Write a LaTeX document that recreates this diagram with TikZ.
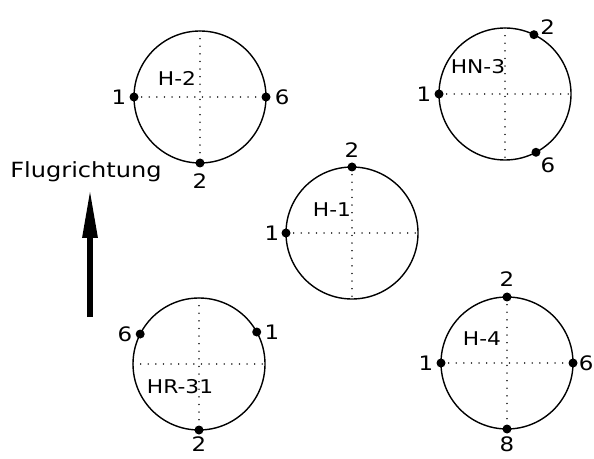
\documentclass[tikz,border=0pt]{standalone}
\usepackage{fontspec}
\setmainfont[FakeStretch=1.15]{DejaVu Sans}
\usetikzlibrary{arrows.meta, positioning}

\begin{document}
\begin{tikzpicture}[line cap=round,line join=round,x=1bp,y=-1bp,
		ring/.style={draw=black, circle, line width=1.4bp, minimum size=132bp, inner sep=0pt, outer sep=0pt},
		cross/.style={black!80, line width=1.5bp, dash pattern=on 0.1bp off 7.5bp},
		hole/.style={fill=black, circle, minimum size=9bp, inner sep=0pt},
		num/.style={inner sep=0pt, font=\fontsize{20}{24}\selectfont},
		tag/.style={inner sep=0pt, font=\fontsize{19}{22}\selectfont},
		heading/.style={line width=6bp, line cap=butt, -{Triangle[length=50bp 0 0,width=14bp 0 0]}}]
		\useasboundingbox (0,0) rectangle (594,459);
		% H-2
		\node[ring] (h2) at (200,97) {};
		\draw[cross] (h2.west) -- (h2.east) (h2.north) -- (h2.south);
		\node[tag] (h2t) at (177,78) {H-2};
		\node[hole] (h2a) at (h2.180) {};
		\node[hole] (h2b) at (h2.0) {};
		\node[hole] (h2c) at (h2.270) {};
		\node[num, left=3bp of h2a] (h2n1) {1};
		\node[num, right=4bp of h2b] (h2n6) {6};
		\node[num, below=6bp of h2c] (h2n2) {2};
		% HN-3
		\node[ring] (hn3) at (505,94) {};
		\draw[cross] (hn3.west) -- (hn3.east) (hn3.north) -- (hn3.south);
		\node[tag] (hn3t) at (478,67) {HN-3};
		\node[hole] (hn3a) at (hn3.180) {};
		\node[hole] (hn3b) at (hn3.64) {};
		\node[hole] (hn3c) at (hn3.-62) {};
		\node[num, left=3bp of hn3a] (hn3n1) {1};
		\node[num, above right=-3bp and 3bp of hn3b] (hn3n2) {2};
		\node[num, below right=2bp and 1bp of hn3c] (hn3n6) {6};
		% H-1
		\node[ring] (h1) at (352,233) {};
		\draw[cross] (h1.west) -- (h1.east) (h1.north) -- (h1.south);
		\node[tag] (h1t) at (332,210) {H-1};
		\node[hole] (h1a) at (h1.180) {};
		\node[hole] (h1b) at (h1.90) {};
		\node[num, left=2bp of h1a] (h1n1) {1};
		\node[num, above=5bp of h1b] (h1n2) {2};
		% HR-31
		\node[ring] (hr31) at (199,364) {};
		\draw[cross] (hr31.west) -- (hr31.east) (hr31.north) -- (hr31.south);
		\node[tag] (hr31t) at (180,387) {HR-31};
		\node[hole] (hr31a) at (hr31.29) {};
		\node[hole] (hr31b) at (hr31.153) {};
		\node[hole] (hr31c) at (hr31.270) {};
		\node[num, right=3bp of hr31a] (hr31n1) {1};
		\node[num, left=3bp of hr31b] (hr31n6) {6};
		\node[num, below=2bp of hr31c] (hr31n2) {2};
		% H-4
		\node[ring] (h4) at (507,363) {};
		\draw[cross] (h4.west) -- (h4.east) (h4.north) -- (h4.south);
		\node[tag] (h4t) at (482,339) {H-4};
		\node[hole] (h4a) at (h4.180) {};
		\node[hole] (h4b) at (h4.90) {};
		\node[hole] (h4c) at (h4.0) {};
		\node[hole] (h4d) at (h4.270) {};
		\node[num, left=3bp of h4a] (h4n1) {1};
		\node[num, above=6bp of h4b] (h4n2) {2};
		\node[num, right=1bp of h4c] (h4n6) {6};
		\node[num, below=3bp of h4d] (h4n8) {8};
		% Flugrichtung
		\node[num, font=\fontsize{21}{24}\selectfont] (flug) at (86,172) {Flugrichtung};
		\coordinate (tail) at (90,317);
		\coordinate (tip) at (90,188);
		\draw[heading] (tail) -- (tip);
	\end{tikzpicture}
\end{document}
